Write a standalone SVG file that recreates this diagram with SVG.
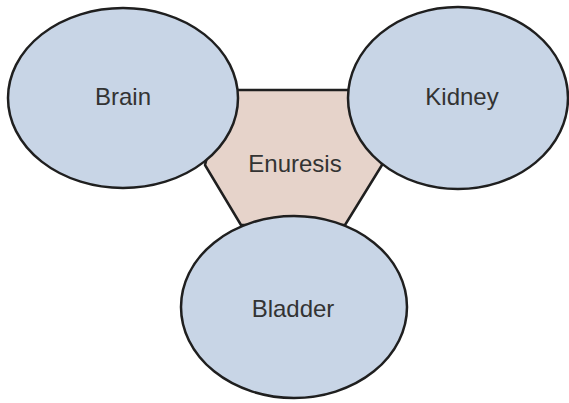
<svg xmlns="http://www.w3.org/2000/svg" width="569" height="403" viewBox="0 0 569 403">
<style>
.organ{fill:#c8d5e6;stroke:#1f1f1f;stroke-width:2.5}
.center{fill:#e6d3ca;stroke:#1f1f1f;stroke-width:2.5;stroke-linejoin:round}
.lbl{font-family:"Liberation Sans",Arial,sans-serif;font-size:24px;fill:#333;text-anchor:middle}
</style>
<rect width="569" height="403" fill="#ffffff"/>
<g id="connectors"></g>
<g id="enuresis">
<polygon class="center" points="225,90 365,90 382,165 345,225 241,225 205,165"/>
<text class="lbl" x="295" y="172">Enuresis</text>
</g>
<g id="brain">
<ellipse class="organ" cx="123" cy="98" rx="115" ry="90"/>
<text class="lbl" x="123" y="105">Brain</text>
</g>
<g id="kidney">
<ellipse class="organ" cx="458" cy="98" rx="110" ry="91"/>
<text class="lbl" x="462" y="105">Kidney</text>
</g>
<g id="bladder">
<ellipse class="organ" cx="294" cy="307" rx="113" ry="91"/>
<text class="lbl" x="293" y="317">Bladder</text>
</g>
</svg>
